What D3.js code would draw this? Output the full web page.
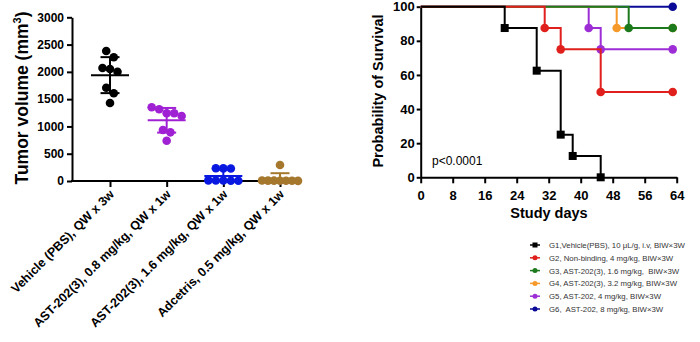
<!DOCTYPE html>
<html>
<head>
<meta charset="utf-8">
<script src="https://cdn.jsdelivr.net/npm/d3@7"></script>
<style>
  body { margin: 0; background: #fff; }
  svg { font-family: Arial, "Liberation Sans", sans-serif; display: block; }
</style>
</head>
<body>
<div id="chart"></div>
<script>
// ---- tumor volume scatter data ----
const groups = ["Vehicle (PBS), QW x 3w", "AST-202(3), 0.8 mg/kg, QW x 1w",
  "AST-202(3), 1.6 mg/kg, QW x 1w", "Adcetris, 0.5 mg/kg, QW x 1w"];
const vehicle = [2382, 2267, 2052, 2003, 2071, 1710, 1607, 1429];
const ast08 = [1241, 1191, 1241, 1351, 1314, 935, 892, 738];
const ast16 = [232, 235, 228, 10, 6, 12, 8, 4];
const adcetris = [293, 8, 5, 3, 6, 4, 7, 5];
const volTicks = [0, 500, 1000, 1500, 2000, 2500, 3000];

// ---- survival data (step points) ----
const kmNames = ["G1,Vehicle(PBS), 10 \u03bcL/g, i.v, BIW\u00d73W", "G2, Non-binding, 4 mg/kg, BIW\u00d73W",
  "G3, AST-202(3), 1.6 mg/kg,  BIW\u00d73W", "G4, AST-202(3), 3.2 mg/kg, BIW\u00d73W",
  "G5, AST-202, 4 mg/kg, BIW\u00d73W", "G6,  AST-202, 8 mg/kg, BIW\u00d73W"];
const g1Days = [0, 21, 29, 35, 38, 45], g1Surv = [100, 87.5, 62.5, 25, 12.5, 0];
const g2Days = [0, 31, 35, 45, 63], g2Surv = [100, 87.5, 75, 50, 50];
const g3Days = [0, 52, 63], g3Surv = [100, 87.5, 87.5];
const g4Days = [0, 49, 63], g4Surv = [100, 87.5, 87.5];
const g5Days = [0, 42, 45, 63], g5Surv = [100, 87.5, 75, 75];
const g6Days = [0, 63], g6Surv = [100, 100];
const dayTicks = [0, 8, 16, 24, 32, 40, 48, 56, 64];
const survTicks = [0, 20, 40, 60, 80, 100];

const scatterColors = ["#000000", "#a020d4", "#0818e0", "#a5782e"];
const kmColors = ["#000000", "#e0201c", "#1c7a1c", "#f59a2a", "#9d2ed6", "#0a0a96"];

const svg = d3.select("#chart").append("svg")
  .attr("width", 700).attr("height", 342);

// ================= left chart =================
const y = d3.scaleLinear().domain([0, 3000]).range([181, 17.3]);
const x = d3.scalePoint().domain(groups).range([110, 280]);

const left = svg.append("g");

left.append("g")
  .attr("transform", "translate(72,0)")
  .call(d3.axisLeft(y).tickValues(volTicks).tickFormat(d3.format("d"))
    .tickSize(5).tickPadding(3).tickSizeOuter(0))
  .call(g => g.select(".domain").attr("stroke-width", 2))
  .call(g => g.selectAll(".tick line").attr("stroke-width", 2))
  .call(g => g.selectAll("text").attr("font-size", 12).attr("font-weight", "bold")
    .attr("font-family", "Arial, 'Liberation Sans', sans-serif"));

const xAxisG = left.append("g")
  .attr("transform", "translate(0,181)")
  .call(d3.axisBottom(x).tickSize(6).tickSizeOuter(0).tickFormat(""));
xAxisG.select(".domain").attr("d", "M71,0H302").attr("stroke-width", 2);
xAxisG.selectAll(".tick line").attr("stroke-width", 2);

left.selectAll(".glabel")
  .data(groups)
  .join("text")
  .attr("class", "glabel")
  .attr("transform", d => `translate(${x(d) + 5},195) rotate(-45)`)
  .attr("text-anchor", "end")
  .attr("font-size", 12.5)
  .attr("font-weight", "bold")
  .text(d => d);

const ylab = left.append("text")
  .attr("transform", "translate(28,98) rotate(-90)")
  .attr("text-anchor", "middle")
  .attr("font-size", 17.5)
  .attr("font-weight", "bold");
ylab.append("tspan").text("Tumor volume (mm");
ylab.append("tspan").text("3").attr("font-size", 11).attr("dy", -7);
ylab.append("tspan").text(")").attr("dy", 7);

// spread points horizontally in value bins (like a scatter dot plot)
function spread(vals) {
  const idx = d3.range(vals.length).sort((a, b) => vals[b] - vals[a]);
  const bins = [];
  idx.forEach(i => {
    const last = bins[bins.length - 1];
    if (last && y(vals[i]) - y(vals[last[0]]) <= 9) last.push(i);
    else bins.push([i]);
  });
  const off = [];
  bins.forEach(b => {
    const step = b.length > 1 ? Math.min(7.5, 36 / (b.length - 1)) : 0;
    b.forEach((i, k) => { off[i] = (k - (b.length - 1) / 2) * step; });
  });
  return off;
}

[vehicle, ast08, ast16, adcetris].forEach((vals, gi) => {
  const cx = x(groups[gi]);
  const col = scatterColors[gi];
  const off = spread(vals);
  const g = left.append("g");
  g.selectAll("circle")
    .data(vals)
    .join("circle")
    .attr("cx", (d, i) => cx + off[i])
    .attr("cy", d => y(d))
    .attr("r", 4.3)
    .attr("fill", col);
  const m = d3.mean(vals), sd = d3.deviation(vals);
  const lo = Math.max(0, m - sd), hi = m + sd;
  g.append("line").attr("x1", cx - 19).attr("x2", cx + 19)
    .attr("y1", y(m)).attr("y2", y(m));
  g.append("line").attr("x1", cx).attr("x2", cx)
    .attr("y1", y(lo)).attr("y2", y(hi));
  g.append("line").attr("x1", cx - 9.5).attr("x2", cx + 9.5)
    .attr("y1", y(hi)).attr("y2", y(hi));
  if (m - sd > 0) {
    g.append("line").attr("x1", cx - 9.5).attr("x2", cx + 9.5)
      .attr("y1", y(lo)).attr("y2", y(lo));
  }
  g.selectAll("line").attr("stroke", col).attr("stroke-width", 2);
});

// ================= right chart =================
const kx = d3.scaleLinear().domain([0, 64]).range([420.7, 676.7]);
const ky = d3.scaleLinear().domain([0, 100]).range([177.3, 6.7]);
const right = svg.append("g");

right.append("g")
  .attr("transform", "translate(420.7,0)")
  .call(d3.axisLeft(ky).tickValues(survTicks).tickSize(4).tickPadding(2).tickSizeOuter(0))
  .call(g => g.select(".domain").attr("stroke-width", 2))
  .call(g => g.selectAll(".tick line").attr("stroke-width", 2))
  .call(g => g.selectAll("text").attr("font-size", 13).attr("font-weight", "bold")
    .attr("font-family", "Arial, 'Liberation Sans', sans-serif"));

right.append("g")
  .attr("transform", "translate(0,177.3)")
  .call(d3.axisBottom(kx).tickValues(dayTicks).tickSize(6).tickPadding(7).tickSizeOuter(0))
  .call(g => g.select(".domain").attr("stroke-width", 2))
  .call(g => g.selectAll(".tick line").attr("stroke-width", 2))
  .call(g => g.selectAll("text").attr("font-size", 13).attr("font-weight", "bold")
    .attr("font-family", "Arial, 'Liberation Sans', sans-serif"));

right.append("text")
  .attr("transform", "translate(383,91) rotate(-90)")
  .attr("text-anchor", "middle")
  .attr("font-size", 14.5)
  .attr("font-weight", "bold")
  .text("Probability of Survival");

right.append("text")
  .attr("x", 549).attr("y", 218)
  .attr("text-anchor", "middle")
  .attr("font-size", 14.5)
  .attr("font-weight", "bold")
  .text("Study days");

right.append("text")
  .attr("x", 432).attr("y", 164.5)
  .attr("font-size", 12)
  .text("p<0.0001");

const kmSeries = [[g1Days, g1Surv], [g2Days, g2Surv], [g3Days, g3Surv],
  [g4Days, g4Surv], [g5Days, g5Surv], [g6Days, g6Surv]];

const stepLine = d3.line()
  .x(d => kx(d[0]))
  .y(d => ky(d[1]))
  .curve(d3.curveStepAfter);

// draw last group first so G1 sits on top
d3.range(kmSeries.length).reverse().forEach(gi => {
  const [days, surv] = kmSeries[gi];
  const pts = days.map((d, i) => [d, surv[i]]);
  const col = kmColors[gi];
  const g = right.append("g");
  g.append("path")
    .attr("d", stepLine(pts))
    .attr("fill", "none")
    .attr("stroke", col)
    .attr("stroke-width", 2);
  const marks = pts.slice(1);
  if (gi === 0) {
    g.selectAll("rect").data(marks).join("rect")
      .attr("x", d => kx(d[0]) - 4).attr("y", d => ky(d[1]) - 4)
      .attr("width", 8).attr("height", 8).attr("fill", col);
  } else {
    g.selectAll("circle").data(marks).join("circle")
      .attr("cx", d => kx(d[0])).attr("cy", d => ky(d[1]))
      .attr("r", 4.3).attr("fill", col);
  }
});

// legend
const legend = right.append("g");
kmNames.forEach((name, i) => {
  const ly = 245 + i * 12.8;
  const col = kmColors[i];
  legend.append("line").attr("x1", 530).attr("x2", 540)
    .attr("y1", ly).attr("y2", ly).attr("stroke", col).attr("stroke-width", 1.5);
  if (i === 0) {
    legend.append("rect").attr("x", 532.5).attr("y", ly - 2.5)
      .attr("width", 5).attr("height", 5).attr("fill", col);
  } else {
    legend.append("circle").attr("cx", 535).attr("cy", ly).attr("r", 2.5).attr("fill", col);
  }
  legend.append("text")
    .attr("x", 549).attr("y", ly + 3)
    .attr("font-size", 7.8)
    .attr("fill", "#333")
    .style("white-space", "pre")
    .text(name);
});
</script>
</body>
</html>
